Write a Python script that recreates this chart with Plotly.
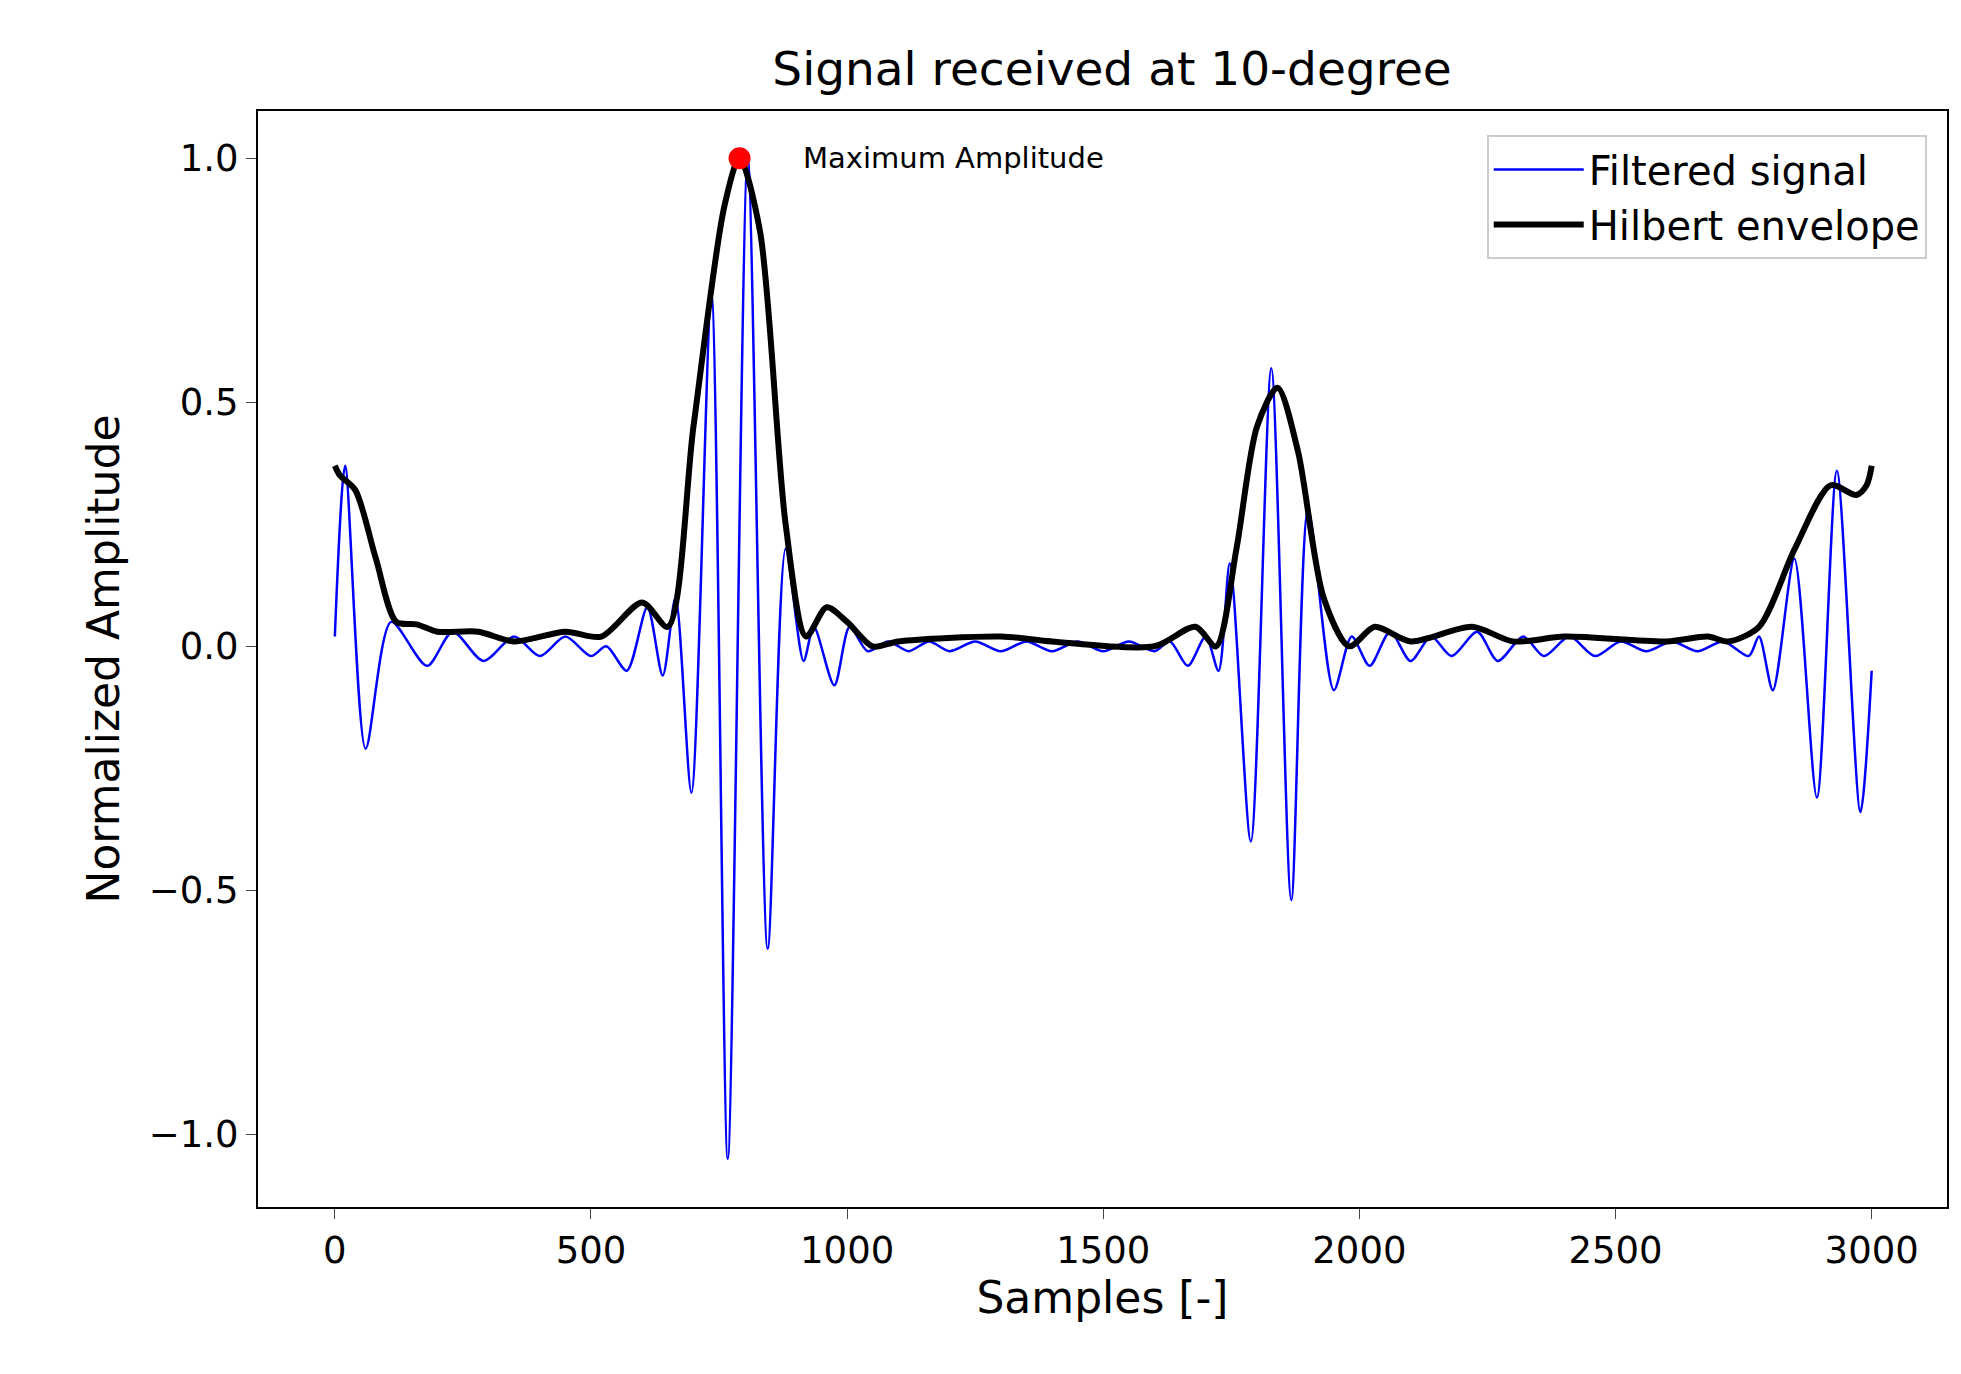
import plotly.graph_objects as go

# filtered signal, read at its turning points
sig_x = [0, 20, 60, 110, 180, 230, 290, 350, 400, 450, 500, 530, 570, 610, 640, 665,
         696, 735, 767, 806, 845, 880, 915, 935, 975, 1005, 1040, 1080, 1120, 1160, 1200,
         1250, 1300, 1350, 1400, 1450, 1500, 1550, 1600, 1630, 1665, 1700, 1725, 1747,
         1788, 1828, 1867, 1900, 1950, 1985, 2020, 2060, 2100, 2140, 2180, 2230, 2270,
         2320, 2360, 2410, 2460, 2510, 2560, 2610, 2660, 2710, 2760, 2780, 2807, 2849,
         2893, 2932, 2978, 3000]
sig_y = [0.02, 0.37, -0.21, 0.05, -0.04, 0.03, -0.03, 0.02, -0.02, 0.02, -0.02, 0.0,
         -0.05, 0.08, -0.06, 0.1, -0.30, 0.72, -1.05, 1.0, -0.62, 0.2, -0.03, 0.04, -0.08,
         0.04, -0.01, 0.01, -0.01, 0.01, -0.01, 0.01, -0.01, 0.01, -0.01, 0.01, -0.01,
         0.01, -0.01, 0.01, -0.04, 0.02, -0.05, 0.17, -0.40, 0.57, -0.52, 0.28, -0.09,
         0.02, -0.04, 0.03, -0.03, 0.02, -0.02, 0.03, -0.03, 0.02, -0.02, 0.02, -0.02,
         0.01, -0.01, 0.01, -0.01, 0.01, -0.02, 0.02, -0.09, 0.18, -0.31, 0.36, -0.34, -0.05]

env_x = [0, 10, 40, 80, 120, 160, 200, 280, 350, 450, 520, 600, 650, 700, 760, 790,
         830, 880, 920, 960, 1000, 1050, 1100, 1300, 1400, 1600, 1680, 1720, 1760, 1800,
         1840, 1880, 1930, 1980, 2030, 2100, 2220, 2300, 2400, 2600, 2680, 2720, 2780,
         2850, 2920, 2970, 2990, 3000]
env_y = [0.37, 0.35, 0.32, 0.18, 0.05, 0.045, 0.03, 0.03, 0.01, 0.03, 0.02, 0.09, 0.04,
         0.45, 0.9, 1.0, 0.85, 0.25, 0.02, 0.08, 0.05, 0.0, 0.01, 0.02, 0.01, 0.0, 0.04,
         0.0, 0.2, 0.45, 0.53, 0.4, 0.1, 0.0, 0.04, 0.01, 0.04, 0.01, 0.02, 0.01, 0.02,
         0.01, 0.04, 0.2, 0.33, 0.31, 0.33, 0.37]

max_x = [790]
max_y = [1.0]

fig = go.Figure()
fig.add_trace(go.Scatter(x=sig_x, y=sig_y, mode="lines", name="Filtered signal",
                         line=dict(color="blue", width=2.5, shape="spline", smoothing=0.8)))
fig.add_trace(go.Scatter(x=env_x, y=env_y, mode="lines", name="Hilbert envelope",
                         line=dict(color="black", width=6, shape="spline", smoothing=0.8)))
fig.add_trace(go.Scatter(x=max_x, y=max_y, mode="markers", showlegend=False,
                         marker=dict(color="red", size=22)))
fig.add_annotation(x=910, y=1.0, text="Maximum Amplitude", showarrow=False,
                   xanchor="left", yanchor="middle", font=dict(size=29, color="black"))

fig.update_layout(
    width=1961, height=1374,
    font=dict(family="DejaVu Sans", size=37, color="black"),
    title=dict(text="Signal received at 10-degree", x=0.563, xanchor="center",
               y=0.968, font=dict(size=47)),
    margin=dict(l=250, r=22, t=103, b=175),
    plot_bgcolor="white", paper_bgcolor="white",
    showlegend=True,
    legend=dict(x=0.988, y=0.978, xanchor="right", yanchor="top", bgcolor="white",
                bordercolor="#cccccc", borderwidth=2, font=dict(size=40), itemwidth=90),
)
fig.update_xaxes(title=dict(text="Samples [-]", standoff=10), range=[-150, 3147],
                 tickvals=[0, 500, 1000, 1500, 2000, 2500, 3000],
                 showline=True, mirror=True, linecolor="black", linewidth=2, ticks="outside",
                 ticklen=10, showgrid=False, zeroline=False)
fig.update_yaxes(title=dict(text="Normalized Amplitude", standoff=15), range=[-1.149, 1.097],
                 tickvals=[-1, -0.5, 0, 0.5, 1],
                 ticktext=["\u22121.0", "\u22120.5", "0.0", "0.5", "1.0"],
                 showline=True, mirror=True, linecolor="black", linewidth=2, ticks="outside",
                 ticklen=10, showgrid=False, zeroline=False)

fig.write_html("out.html")
